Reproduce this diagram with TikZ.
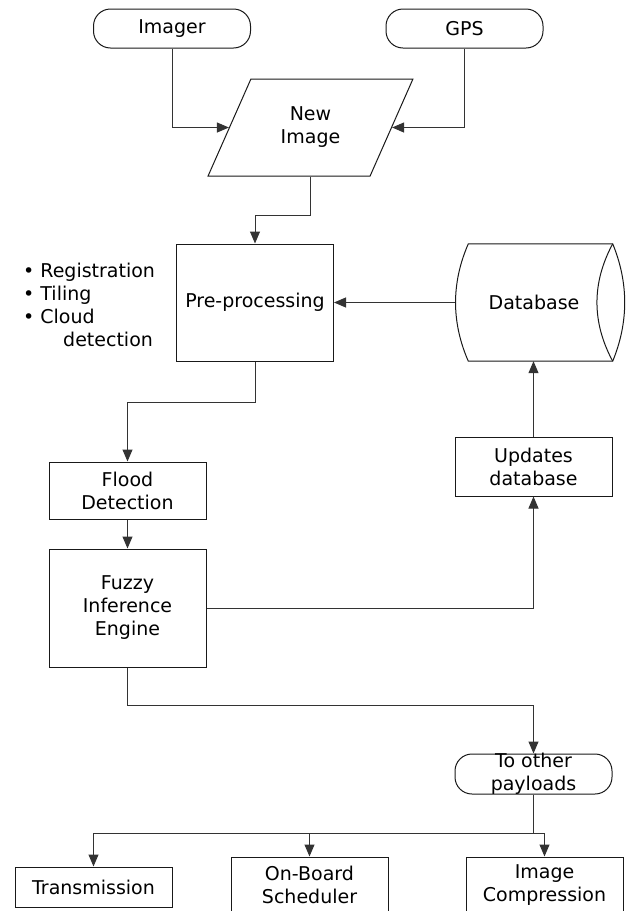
\documentclass[tikz,border=0pt]{standalone}
\usepackage{fontspec}
\setmainfont{DejaVu Sans}
\usetikzlibrary{shapes.geometric}
\usetikzlibrary{arrows.meta}

\begin{document}
\begin{tikzpicture}[x=1pt,y=-1pt,
      font=\fontsize{19}{23}\selectfont,
      every node/.style={align=center,inner sep=2pt},
      box/.style={draw=black!90,line width=1pt,minimum width=157},
      term/.style={box,rounded corners=17,minimum height=39},
      io/.style={trapezium,draw=black!90,line width=1pt,
        trapezium left angle=63,trapezium right angle=117,
        trapezium stretches=true,minimum width=205,minimum height=97},
      store/.style={minimum width=157,minimum height=117},
      edge/.style={draw=black!90,line width=1pt},
      conn/.style={draw=black!80,line width=1pt,-{Triangle[length=12pt,width=10pt]}},
      ]
      \useasboundingbox (0,0) rectangle (626,911);
      \clip (0,0) rectangle (626,911);
      \node[term] (imager) at (172,28.5) {Imager};
      \node[term] (gps) at (464.5,28.5) {GPS};
      \node[io] (newimg) at (310.5,127.5) {New\\Image};
      \node[box,minimum height=117] (pre) at (255,302.5) {Pre-processing};
      \node[store] (db) at (534,302.5) {Database};
      \draw[edge] ([xshift=13]db.north west) -- (db.north east)
        .. controls +(16,39) and +(16,-39) .. (db.south east)
        -- ([xshift=13]db.south west)
        .. controls +(-17,-39) and +(-17,39) .. cycle;
      \draw[edge] (db.north east) .. controls +(-21,39) and +(-21,-39) .. (db.south east);
      \node[anchor=west,align=left,inner sep=0] (steps) at (23,305)
        {\textbullet\ Registration\\\textbullet\ Tiling\\\textbullet\ Cloud\\\hspace*{40pt}detection};
      \node[box,minimum height=59] (upd) at (533.5,466.5) {Updates\\database};
      \node[box,minimum height=57] (flood) at (127.5,490.5) {Flood\\Detection};
      \node[box,minimum height=118] (fuzzy) at (127.5,608) {Fuzzy\\Inference\\Engine};
      \node[term,inner ysep=-2pt,minimum height=40] (other) at (533.5,774) {To other\\payloads};
      \node[box,minimum height=40] (trans) at (93.5,887) {Transmission};
      \node[box,minimum height=56] (sched) at (309.5,885) {On-Board\\Scheduler};
      \node[box,minimum height=56] (comp) at (544.5,885) {Image\\Compression};

      \draw[conn] (imager.south) |- (newimg.west);
      \draw[conn] (gps.south) |- (newimg.east);
      \draw[conn] (newimg.south) -- ++(0,39) -| (pre.north);
      \draw[conn] (db.west) -- (pre.east);
      \draw[conn] (pre.south) -- ++(0,41) -| (flood.north);
      \draw[conn] (flood) -- (fuzzy);
      \draw[conn] (fuzzy.east) -| (upd.south);
      \draw[conn] (upd.north) -- (upd.north |- db.south);
      \draw[conn] (fuzzy.south) -- ++(0,38) -| (other.north);
      \draw[conn] (other.south) -- ++(0,39) -| (trans.north);
      \draw[conn] (other.south) -- ++(0,39) -| (sched.north);
      \draw[conn] (other.south) -- ++(0,39) -| (comp.north);
    \end{tikzpicture}
\end{document}
